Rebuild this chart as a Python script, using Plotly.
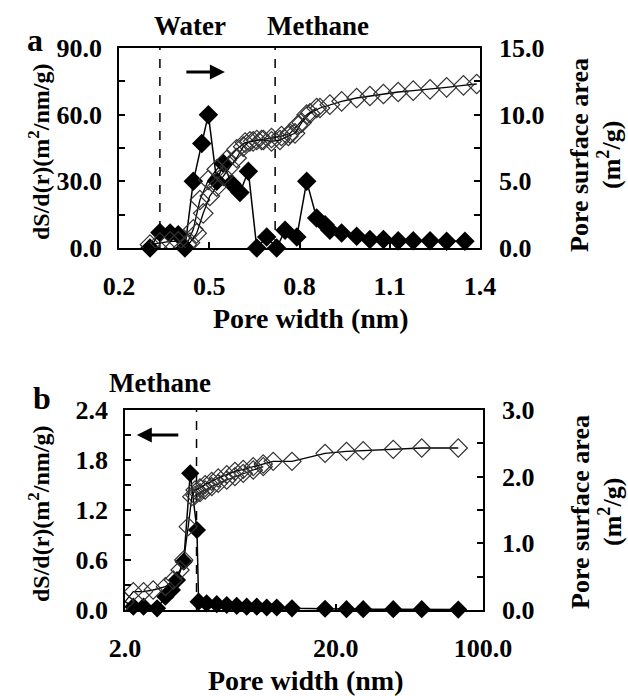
import plotly.graph_objects as go

# ---------------- Panel a data ----------------
a_filled_x = [0.303, 0.336, 0.370, 0.397, 0.419, 0.447, 0.475, 0.497, 0.525, 0.547, 0.574, 0.602, 0.630,
              0.658, 0.691, 0.724, 0.752, 0.791, 0.824, 0.857, 0.885, 0.901, 0.940, 0.990, 1.034, 1.079,
              1.128, 1.178, 1.234, 1.289, 1.350]
a_filled_y = [0.0, 7.0, 6.8, 6.0, 0.0, 30.0, 47.0, 60.0, 30.0, 38.0, 29.0, 25.0, 34.5,
              0.0, 5.0, 0.0, 8.0, 5.0, 30.0, 13.5, 10.5, 8.0, 6.8, 5.3, 3.8, 3.8,
              3.3, 3.3, 3.3, 3.0, 3.0]

a_openA_x = [0.303, 0.336, 0.370, 0.397, 0.436, 0.458, 0.480, 0.502, 0.525, 0.547, 0.569, 0.591, 0.613,
             0.635, 0.658, 0.680, 0.707, 0.735, 0.763, 0.785, 0.807, 0.835, 0.868, 0.901, 0.940, 0.990,
             1.034, 1.079, 1.128, 1.178, 1.234, 1.289, 1.345, 1.389]
a_openA_y = [0.25, 0.4, 0.5, 0.5, 0.4, 1.1, 2.6, 3.9, 4.6, 5.4, 6.1, 6.75, 7.6,
             8.0, 8.1, 8.1, 8.0, 8.1, 8.4, 8.6, 9.4, 10.1, 10.5, 10.75, 11.0, 11.25,
             11.4, 11.55, 11.7, 11.8, 11.9, 12.05, 12.2, 12.3]

a_openB_x = [0.425, 0.447, 0.469, 0.497, 0.525, 0.558, 0.591, 0.619, 0.646, 0.674, 0.707, 0.740,
             0.768, 0.796, 0.824, 0.857]
a_openB_y = [0.25, 1.4, 3.6, 5.1, 5.9, 6.6, 7.4, 7.9, 8.0, 8.1, 8.25, 8.4,
             8.6, 9.25, 10.0, 10.5]

a_dash_x = [0.336, 0.719]
a_xticks = [0.2, 0.5, 0.8, 1.1, 1.4]

# ---------------- Panel b data ----------------
b_filled_x = [2.0, 2.19, 2.45, 2.84, 3.11, 3.34, 3.53, 3.80, 4.08, 4.39, 4.47, 4.88, 5.45, 6.08, 6.78,
              7.56, 8.44, 9.41, 10.5, 12.4, 17.8, 22.5, 27.0, 37.5, 51.2, 76.3]
b_filled_y = [0.10, 0.04, 0.04, 0.02, 0.16, 0.24, 0.36, 0.58, 1.64, 0.96, 0.10, 0.08, 0.07, 0.06, 0.05,
              0.04, 0.04, 0.03, 0.03, 0.02, 0.015, 0.01, 0.01, 0.01, 0.01, 0.005]

b_openA_x = [2.0, 2.19, 2.45, 2.72, 3.11, 3.39, 3.65, 3.80, 3.99, 4.15, 4.30, 4.54, 4.80, 5.16, 5.54,
             6.08, 6.65, 7.28, 8.12, 9.06, 10.1, 12.4, 17.8, 22.5, 27.0, 37.5, 51.2, 76.3]
b_openA_y = [0.125, 0.275, 0.275, 0.30, 0.35, 0.45, 0.60, 0.75, 1.25, 1.70, 1.80, 1.83, 1.88, 1.93, 1.98,
             2.03, 2.08, 2.11, 2.15, 2.19, 2.23, 2.23, 2.35, 2.38, 2.39, 2.41, 2.43, 2.43]

b_openB_x = [4.30, 4.54, 4.80, 5.16, 5.54, 6.08, 6.65, 7.28, 8.12, 9.06]
b_openB_y = [1.72, 1.76, 1.80, 1.85, 1.90, 1.95, 2.00, 2.05, 2.10, 2.15]

b_dash_x = [4.37]
b_xticks = [2.0, 20.0, 100.0]
b_xticktext = ["2.0", "20.0", "100.0"]

FONT = "Liberation Serif"
W, H = 628, 696

fig = go.Figure()

for xv in a_dash_x:
    fig.add_trace(go.Scatter(x=[xv, xv], y=[0, 90], mode="lines", xaxis="x", yaxis="y",
                             line=dict(color="black", width=1.5, dash="dash"), showlegend=False))
for xs, ys in [(a_openB_x, a_openB_y), (a_openA_x, a_openA_y)]:
    fig.add_trace(go.Scatter(x=xs, y=ys, mode="lines+markers", xaxis="x", yaxis="y2",
                             line=dict(color="black", width=1.3),
                             marker=dict(symbol="diamond-open", size=15, color="#333",
                                         line=dict(width=1.2, color="#333")),
                             showlegend=False))
fig.add_trace(go.Scatter(x=a_filled_x, y=a_filled_y, mode="lines+markers", xaxis="x", yaxis="y",
                         line=dict(color="black", width=1.5),
                         marker=dict(symbol="diamond", size=15, color="black"),
                         showlegend=False, cliponaxis=False))

for xv in b_dash_x:
    fig.add_trace(go.Scatter(x=[xv, xv], y=[0, 2.4], mode="lines", xaxis="x2", yaxis="y3",
                             line=dict(color="black", width=1.5, dash="dash"), showlegend=False))
for xs, ys in [(b_openB_x, b_openB_y), (b_openA_x, b_openA_y)]:
    fig.add_trace(go.Scatter(x=xs, y=ys, mode="lines+markers", xaxis="x2", yaxis="y4",
                             line=dict(color="black", width=1.3),
                             marker=dict(symbol="diamond-open", size=14, color="#333",
                                         line=dict(width=1.2, color="#333")),
                             showlegend=False))
fig.add_trace(go.Scatter(x=b_filled_x, y=b_filled_y, mode="lines+markers", xaxis="x2", yaxis="y3",
                         line=dict(color="black", width=1.5),
                         marker=dict(symbol="diamond", size=14, color="black"),
                         showlegend=False, cliponaxis=False))

tickfont = dict(family=FONT, size=26, color="black", weight="bold")
ax_common = dict(showline=True, linecolor="black", linewidth=1.5, ticks="inside", ticklen=6,
                 tickcolor="black", tickwidth=1.5, showgrid=False, zeroline=False, tickfont=tickfont,
                 automargin=False)
minor_kw = dict(ticks="inside", ticklen=6, tickcolor="black", tickwidth=1.5)

top_dom = [1 - 248 / H, 1 - 48 / H]
bot_dom = [1 - 610 / H, 1 - 410 / H]

fig.update_layout(
    template="none",
    width=W, height=H, margin=dict(l=0, r=0, t=0, b=0, autoexpand=False),
    paper_bgcolor="white", plot_bgcolor="white",
    xaxis=dict(domain=[119 / W, 480 / W], range=[0.2, 1.4], tickvals=a_xticks, tickformat=".1f",
               anchor="y", mirror=True, ticklabelstandoff=14, **ax_common),
    yaxis=dict(domain=top_dom, range=[0, 90], dtick=30, tickformat=".1f", anchor="x",
               ticklabelstandoff=10, minor=dict(dtick=15, **minor_kw), **ax_common),
    yaxis2=dict(domain=top_dom, range=[0, 15], dtick=5, tickformat=".1f", anchor="x",
                overlaying="y", side="right", ticklabelstandoff=12,
                minor=dict(dtick=2.5, **minor_kw), **ax_common),
    xaxis2=dict(domain=[125 / W, 483 / W], type="log", range=[0.30103, 2.0], tickvals=b_xticks,
                ticktext=b_xticktext, anchor="y3", mirror=True, ticklabelstandoff=14, **ax_common),
    yaxis3=dict(domain=bot_dom, range=[0, 2.4], dtick=0.6, tickformat=".1f", anchor="x2",
                ticklabelstandoff=10, minor=dict(dtick=0.3, **minor_kw), **ax_common),
    yaxis4=dict(domain=bot_dom, range=[0, 3.0], dtick=1, tickformat=".1f", anchor="x2",
                overlaying="y3", side="right", ticklabelstandoff=12,
                minor=dict(dtick=0.5, **minor_kw), **ax_common),
)

def txt(x, y, s, size=28, angle=0):
    fig.add_annotation(x=x / W, y=1 - y / H, xref="paper", yref="paper", text=s, showarrow=False,
                       textangle=angle, xanchor="center", yanchor="middle",
                       font=dict(family=FONT, size=size, color="black", weight="bold"))

txt(35, 40, "a", size=32)
txt(190, 26, "Water", size=27)
txt(318, 26, "Methane", size=27)
txt(310, 318, "Pore width (nm)", size=28)
txt(39, 152, "dS/d(r)(m<sup>2</sup>/nm/g)", size=24, angle=-90)
txt(580, 155, "Pore surface area", size=26, angle=-90)
txt(610, 155, "(m<sup>2</sup>/g)", size=26, angle=-90)

txt(42, 398, "b", size=32)
txt(160, 383, "Methane", size=27)
txt(305, 680, "Pore width (nm)", size=28)
txt(39, 514, "dS/d(r)(m<sup>2</sup>/nm/g)", size=24, angle=-90)
txt(580, 512, "Pore surface area", size=26, angle=-90)
txt(610, 512, "(m<sup>2</sup>/g)", size=26, angle=-90)

fig.add_annotation(x=0.552, y=79.2, xref="x", yref="y", ax=-40, ay=0, showarrow=True,
                   arrowhead=2, arrowsize=1, arrowwidth=3, arrowcolor="black", text="")
fig.add_annotation(x=0.357, y=2.1, xref="x2", yref="y3", ax=43, ay=0, showarrow=True,
                   arrowhead=2, arrowsize=1, arrowwidth=3, arrowcolor="black", text="")

fig.write_html("out.html")
